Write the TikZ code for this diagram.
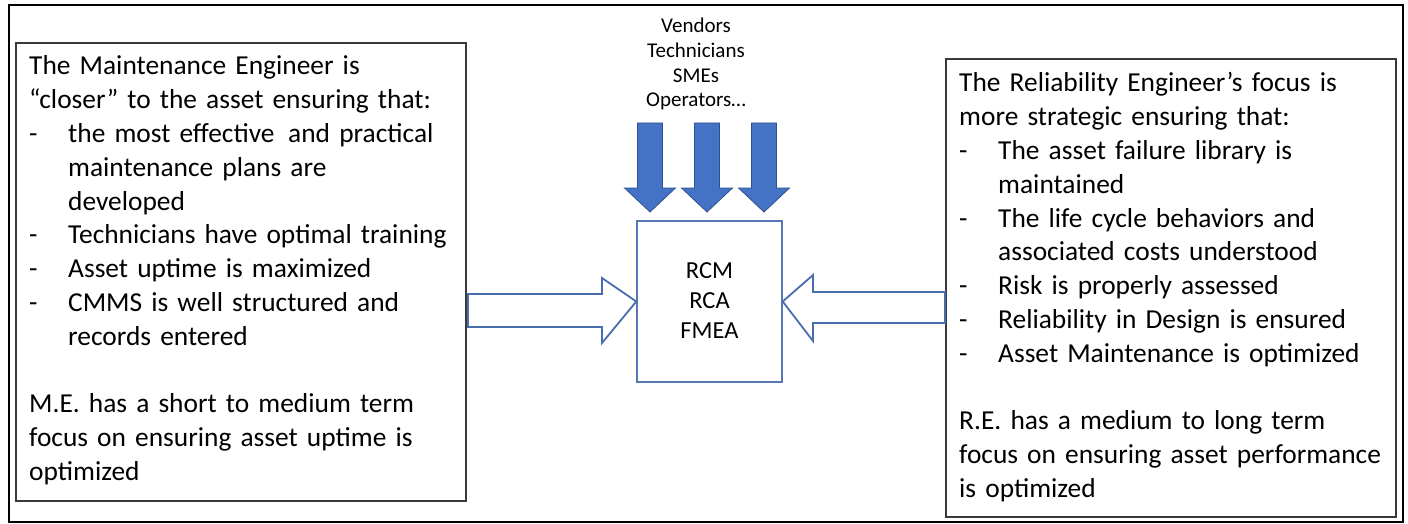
\documentclass[tikz,border=0pt]{standalone}
\usepackage{fontspec}
\setmainfont{Carlito}
\usetikzlibrary{calc}

\definecolor{boxline}{HTML}{3A3A3A}
\definecolor{blockfill}{HTML}{4472C4}
\definecolor{blockline}{HTML}{2F528F}
\definecolor{hollowline}{HTML}{4A6DB0}
\definecolor{centerline}{HTML}{5878B4}

% dashed list entry with hanging indent
\newcommand\dashitem[1]{\makebox[39pt][l]{-}#1}
\newcommand\cont[1]{\hspace*{39pt}#1}

\tikzset{
  rolebox/.style={draw=boxline, line width=1.4pt},
  roletext/.style={anchor=base west, inner sep=0pt, text width=440pt, align=left,
    font=\fontsize{27.4}{33.8}\selectfont},
  toolbox/.style={draw=centerline, line width=1.4pt},
  blockarrow/.style={fill=blockfill, draw=blockline, line width=0.8pt, line join=miter},
  hollowarrow/.style={fill=white, draw=hollowline, line width=1.8pt, line join=miter},
}

\begin{document}
\begin{tikzpicture}[x=1pt, y=-1pt]
  \useasboundingbox (0,0) rectangle (1408,524);
  \fill[white] (0,0) rectangle (1408,524);

  % outer frame
  \draw[line width=2.6pt, black] (9,5) rectangle (1403,522);

  % role boxes
  \draw[rolebox] (16,43) rectangle (466,501);
  \coordinate (meE) at (466,311);
  \draw[rolebox] (946,59) rectangle (1396,517);
  \coordinate (reW) at (946,308);

  % centre box with methods (base anchor sits on the last line)
  \node[toolbox, minimum width=145pt, minimum height=161pt, inner sep=0pt] (tools) at (709.5,301.5) {};
  \node[align=center, font=\fontsize{24.5}{30}\selectfont, inner sep=0pt, anchor=base]
    (methods) at (709.5,338) {RCM\\RCA\\FMEA};

  % contributors above the centre box
  \node[align=center, font=\fontsize{21}{24.8}\selectfont, inner sep=0pt, anchor=base]
    (people) at (696,107) {Vendors\\Technicians\\SMEs\\Operators…};

  % three filled block arrows pointing down into the centre box
  \foreach \cx/\nm in {650/a, 707/b, 764/c} {
    \draw[blockarrow] (\cx-12.5,123) -- (\cx+12.5,123) -- (\cx+12.5,188) -- (\cx+25.5,188)
      -- (\cx,212) coordinate (tip\nm) -- (\cx-25.5,188) -- (\cx-12.5,188) -- cycle;
  }

  % hollow arrow from the maintenance box to the centre box
  \draw[hollowarrow] ($(meE)+(2,-17)$) -- (602,294) -- (602,278) -- (tools.west)
    -- (602,343) -- (602,327) -- ($(meE)+(2,16)$) -- cycle;

  % hollow arrow from the reliability box to the centre box
  \draw[hollowarrow] ($(reW)+(-1,-16)$) -- (813,292) -- (813,275) -- (tools.east)
    -- (813,341) -- (813,323) -- ($(reW)+(-1,15)$) -- cycle;

  % maintenance engineer text
  \node[roletext] (metext) at (29,75) {%
    The Maintenance Engineer is\\
    “closer” to the asset ensuring that:\\
    \dashitem{the most effective\, and practical}\\
    \cont{maintenance plans are}\\
    \cont{developed}\\
    \dashitem{Technicians have optimal training}\\
    \dashitem{Asset uptime is maximized}\\
    \dashitem{CMMS is well structured and}\\
    \cont{records entered}\\
    \mbox{}\\
    M.E. has a short to medium term\\
    focus on ensuring asset uptime is\\
    optimized};

  % reliability engineer text
  \node[roletext] (retext) at (959,92) {%
    The Reliability Engineer’s focus is\\
    more strategic ensuring that:\\
    \dashitem{The asset failure library is}\\
    \cont{maintained}\\
    \dashitem{The life cycle behaviors and}\\
    \cont{associated costs understood}\\
    \dashitem{Risk is properly assessed}\\
    \dashitem{Reliability in Design is ensured}\\
    \dashitem{Asset Maintenance is optimized}\\
    \mbox{}\\
    R.E. has a medium to long term\\
    focus on ensuring asset performance\\
    is optimized};
\end{tikzpicture}
\end{document}
